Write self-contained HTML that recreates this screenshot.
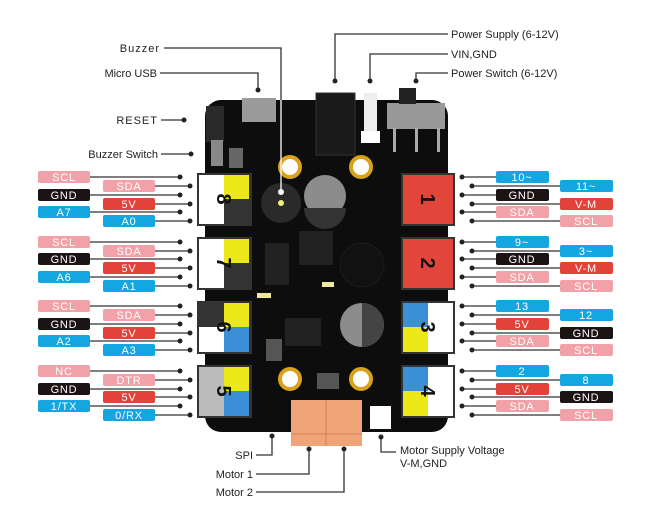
<!DOCTYPE html>
<html><head><meta charset="utf-8"><style>
html,body{margin:0;padding:0;background:#fff}
svg{display:block}
text{font-family:"Liberation Sans",sans-serif}
.l{font-size:11px;fill:#fff;text-anchor:middle;letter-spacing:0.8px}
.c{font-size:11px;fill:#222}
.ln{stroke:#333;stroke-width:1.3;fill:none}
.d{fill:#222}
</style></head><body>
<svg width="650" height="527" viewBox="0 0 650 527" xmlns="http://www.w3.org/2000/svg">
<rect x="205" y="100" width="243" height="332" rx="16" fill="#0d0d0d"/>
<rect x="242" y="98" width="34" height="24" fill="#9a9a9a"/>
<rect x="206" y="106" width="18" height="36" fill="#2a2a2a"/>
<rect x="211" y="140" width="12" height="26" fill="#888"/>
<rect x="229" y="148" width="14" height="20" fill="#666"/>
<rect x="316" y="93" width="39" height="62" fill="#1a1a1a" stroke="#333"/>
<rect x="364" y="93" width="13" height="42" fill="#eee"/>
<rect x="361" y="131" width="19" height="12" fill="#fff"/>
<rect x="387" y="103" width="58" height="26" fill="#999"/>
<rect x="399" y="88" width="17" height="16" fill="#222"/>
<rect x="393" y="128" width="3" height="24" fill="#aaa"/>
<rect x="415" y="128" width="3" height="24" fill="#aaa"/>
<rect x="437" y="128" width="3" height="24" fill="#aaa"/>
<g fill="#fff" stroke="#d8a21a" stroke-width="4">
<circle cx="290" cy="167" r="10"/><circle cx="361" cy="167" r="10"/>
<circle cx="290" cy="379" r="10"/><circle cx="361" cy="379" r="10"/>
</g>
<circle cx="281" cy="203" r="20" fill="#2a2a2a"/>
<circle cx="281" cy="203" r="3" fill="#f4ef7a"/>
<circle cx="325" cy="196" r="21" fill="#8c8c8c"/>
<path d="M304 208 A21 21 0 0 0 346 208 Z" fill="#333"/>
<circle cx="362" cy="265" r="22" fill="#111" stroke="#1d1d1d"/>
<circle cx="362" cy="325" r="22" fill="#8c8c8c"/>
<path d="M362 303 A22 22 0 0 1 362 347 Z" fill="#444"/>
<rect x="299" y="231" width="34" height="34" fill="#222"/>
<rect x="265" y="243" width="24" height="42" fill="#222"/>
<rect x="285" y="318" width="36" height="28" fill="#222"/>
<rect x="266" y="339" width="16" height="22" fill="#555"/>
<rect x="317" y="373" width="22" height="16" fill="#555"/>
<rect x="257" y="293" width="14" height="5" fill="#eee8a0"/>
<rect x="322" y="282" width="12" height="5" fill="#eee8a0"/>
<rect x="291" y="400" width="71" height="46" fill="#f0a477"/>
<line x1="326" y1="400" x2="326" y2="446" stroke="#c9845a"/>
<line x1="291" y1="434" x2="362" y2="434" stroke="#c9845a"/>
<rect x="370" y="406" width="21" height="23" fill="#fff"/>
<g>
<rect x="197" y="173" width="55" height="53" fill="#333"/>
<rect x="199" y="175" width="25" height="49" fill="#fff"/>
<rect x="224" y="175" width="25" height="24" fill="#ece81a"/>
<rect x="197" y="237" width="55" height="53" fill="#333"/>
<rect x="199" y="239" width="25" height="49" fill="#fff"/>
<rect x="224" y="239" width="25" height="24" fill="#ece81a"/>
<rect x="197" y="301" width="55" height="53" fill="#333"/>
<rect x="199" y="327" width="25" height="25" fill="#fff"/>
<rect x="224" y="303" width="25" height="24" fill="#ece81a"/>
<rect x="224" y="327" width="25" height="25" fill="#3b8fd6"/>
<rect x="197" y="365" width="55" height="53" fill="#333"/>
<rect x="199" y="367" width="25" height="49" fill="#bbb"/>
<rect x="224" y="367" width="25" height="24" fill="#ece81a"/>
<rect x="224" y="391" width="25" height="25" fill="#3b8fd6"/>
</g>
<g font-family="Liberation Sans" font-weight="bold" font-size="20" fill="#111" text-anchor="middle">
<text transform="translate(224,199) rotate(90)" dy="7">8</text>
<text transform="translate(224,263) rotate(90)" dy="7">7</text>
<text transform="translate(224,327) rotate(90)" dy="7">6</text>
<text transform="translate(224,391) rotate(90)" dy="7">5</text>
</g>
<rect x="401" y="173" width="54" height="53" fill="#333"/>
<rect x="403" y="175" width="50" height="49" fill="#e2463b"/>
<rect x="401" y="237" width="54" height="53" fill="#333"/>
<rect x="403" y="239" width="50" height="49" fill="#e2463b"/>
<rect x="401" y="301" width="54" height="53" fill="#333"/>
<rect x="428" y="303" width="25" height="49" fill="#fff"/>
<rect x="403" y="303" width="25" height="24" fill="#3b8fd6"/>
<rect x="403" y="327" width="25" height="25" fill="#ece81a"/>
<rect x="401" y="365" width="54" height="53" fill="#333"/>
<rect x="428" y="367" width="25" height="49" fill="#fff"/>
<rect x="403" y="367" width="25" height="24" fill="#3b8fd6"/>
<rect x="403" y="391" width="25" height="25" fill="#ece81a"/>
<g font-family="Liberation Sans" font-weight="bold" font-size="20" fill="#111" text-anchor="middle">
<text transform="translate(428,199) rotate(90)" dy="7">1</text>
<text transform="translate(428,263) rotate(90)" dy="7">2</text>
<text transform="translate(428,327) rotate(90)" dy="7">3</text>
<text transform="translate(428,391) rotate(90)" dy="7">4</text>
</g>

<path class="ln" d="M164 48 H281 V100"/>
<path d="M281 100 V192" stroke="#fff" stroke-width="1.3"/>
<circle cx="281" cy="192" r="3" fill="#fff"/>
<text class="c" x="160" y="52" text-anchor="end" letter-spacing="1">Buzzer</text>
<path class="ln" d="M160 73 H258 V90"/><circle class="d" cx="258" cy="90" r="2.5"/>
<text class="c" x="157" y="77" text-anchor="end">Micro USB</text>
<path class="ln" d="M161 120 H184"/><circle class="d" cx="184" cy="120" r="2.5"/>
<text class="c" x="158" y="124" text-anchor="end" letter-spacing="1">RESET</text>
<path class="ln" d="M161 154 H191"/><circle class="d" cx="191" cy="154" r="2.5"/>
<text class="c" x="158" y="158" text-anchor="end">Buzzer Switch</text>
<path class="ln" d="M448 34 H335 V81"/><circle class="d" cx="335" cy="81" r="2.5"/>
<text class="c" x="451" y="38">Power Supply (6-12V)</text>
<path class="ln" d="M448 54 H370 V81"/><circle class="d" cx="370" cy="81" r="2.5"/>
<text class="c" x="451" y="58">VIN,GND</text>
<path class="ln" d="M448 73 H416 V81"/><circle class="d" cx="416" cy="81" r="2.5"/>
<text class="c" x="451" y="77">Power Switch (6-12V)</text>
<path class="ln" d="M256 455 H272 V436"/><circle class="d" cx="272" cy="436" r="2.5"/>
<text class="c" x="253" y="459" text-anchor="end">SPI</text>
<path class="ln" d="M256 474 H309 V449"/><circle class="d" cx="309" cy="449" r="2.5"/>
<text class="c" x="253" y="478" text-anchor="end">Motor 1</text>
<path class="ln" d="M256 492 H344 V449"/><circle class="d" cx="344" cy="449" r="2.5"/>
<text class="c" x="253" y="496" text-anchor="end">Motor 2</text>
<path class="ln" d="M381 437 V452 H396"/><circle class="d" cx="381" cy="437" r="2.5"/>
<text class="c" x="400" y="454">Motor Supply Voltage</text>
<text class="c" x="400" y="467">V-M,GND</text>

<path class="ln" d="M90 177H180M155 186H190M90 195H180M155 204H190M90 212H180M155 221H190"/>
<path class="ln" d="M90 242H180M155 251H190M90 259H180M155 268H190M90 277H180M155 286H190"/>
<path class="ln" d="M90 306H180M155 315H190M90 324H180M155 333H190M90 341H180M155 350H190"/>
<path class="ln" d="M90 371H180M155 380H190M90 389H180M155 397H190M90 406H180M155 415H190"/>
<g class="d">
<circle cx="180" cy="177" r="2.5"/><circle cx="190" cy="186" r="2.5"/><circle cx="180" cy="195" r="2.5"/><circle cx="190" cy="204" r="2.5"/><circle cx="180" cy="212" r="2.5"/><circle cx="190" cy="221" r="2.5"/>
<circle cx="180" cy="242" r="2.5"/><circle cx="190" cy="251" r="2.5"/><circle cx="180" cy="259" r="2.5"/><circle cx="190" cy="268" r="2.5"/><circle cx="180" cy="277" r="2.5"/><circle cx="190" cy="286" r="2.5"/>
<circle cx="180" cy="306" r="2.5"/><circle cx="190" cy="315" r="2.5"/><circle cx="180" cy="324" r="2.5"/><circle cx="190" cy="333" r="2.5"/><circle cx="180" cy="341" r="2.5"/><circle cx="190" cy="350" r="2.5"/>
<circle cx="180" cy="371" r="2.5"/><circle cx="190" cy="380" r="2.5"/><circle cx="180" cy="389" r="2.5"/><circle cx="190" cy="397" r="2.5"/><circle cx="180" cy="406" r="2.5"/><circle cx="190" cy="415" r="2.5"/>
</g>
<g>
<rect x="38" y="171" width="52" height="12" rx="2" fill="#f1a1a8"/><text class="l" x="64" y="181">SCL</text>
<rect x="103" y="180" width="52" height="12" rx="2" fill="#f1a1a8"/><text class="l" x="129" y="190">SDA</text>
<rect x="38" y="189" width="52" height="12" rx="2" fill="#1c1414"/><text class="l" x="64" y="199">GND</text>
<rect x="103" y="198" width="52" height="12" rx="2" fill="#e2423a"/><text class="l" x="129" y="208">5V</text>
<rect x="38" y="206" width="52" height="12" rx="2" fill="#14a6e0"/><text class="l" x="64" y="216">A7</text>
<rect x="103" y="215" width="52" height="12" rx="2" fill="#14a6e0"/><text class="l" x="129" y="225">A0</text>
<rect x="38" y="236" width="52" height="12" rx="2" fill="#f1a1a8"/><text class="l" x="64" y="246">SCL</text>
<rect x="103" y="245" width="52" height="12" rx="2" fill="#f1a1a8"/><text class="l" x="129" y="255">SDA</text>
<rect x="38" y="253" width="52" height="12" rx="2" fill="#1c1414"/><text class="l" x="64" y="263">GND</text>
<rect x="103" y="262" width="52" height="12" rx="2" fill="#e2423a"/><text class="l" x="129" y="272">5V</text>
<rect x="38" y="271" width="52" height="12" rx="2" fill="#14a6e0"/><text class="l" x="64" y="281">A6</text>
<rect x="103" y="280" width="52" height="12" rx="2" fill="#14a6e0"/><text class="l" x="129" y="290">A1</text>
<rect x="38" y="300" width="52" height="12" rx="2" fill="#f1a1a8"/><text class="l" x="64" y="310">SCL</text>
<rect x="103" y="309" width="52" height="12" rx="2" fill="#f1a1a8"/><text class="l" x="129" y="319">SDA</text>
<rect x="38" y="318" width="52" height="12" rx="2" fill="#1c1414"/><text class="l" x="64" y="328">GND</text>
<rect x="103" y="327" width="52" height="12" rx="2" fill="#e2423a"/><text class="l" x="129" y="337">5V</text>
<rect x="38" y="335" width="52" height="12" rx="2" fill="#14a6e0"/><text class="l" x="64" y="345">A2</text>
<rect x="103" y="344" width="52" height="12" rx="2" fill="#14a6e0"/><text class="l" x="129" y="354">A3</text>
<rect x="38" y="365" width="52" height="12" rx="2" fill="#f1a1a8"/><text class="l" x="64" y="375">NC</text>
<rect x="103" y="374" width="52" height="12" rx="2" fill="#f1a1a8"/><text class="l" x="129" y="384">DTR</text>
<rect x="38" y="383" width="52" height="12" rx="2" fill="#1c1414"/><text class="l" x="64" y="393">GND</text>
<rect x="103" y="391" width="52" height="12" rx="2" fill="#e2423a"/><text class="l" x="129" y="401">5V</text>
<rect x="38" y="400" width="52" height="12" rx="2" fill="#14a6e0"/><text class="l" x="64" y="410">1/TX</text>
<rect x="103" y="409" width="52" height="12" rx="2" fill="#14a6e0"/><text class="l" x="129" y="419">0/RX</text>
</g>

<path class="ln" d="M462 177H496M472 186H560M462 195H496M472 204H560M462 212H496M472 221H560"/>
<path class="ln" d="M462 242H496M472 251H560M462 259H496M472 268H560M462 277H496M472 286H560"/>
<path class="ln" d="M462 306H496M472 315H560M462 324H496M472 333H560M462 341H496M472 350H560"/>
<path class="ln" d="M462 371H496M472 380H560M462 389H496M472 397H560M462 406H496M472 415H560"/>
<g class="d">
<circle cx="462" cy="177" r="2.5"/><circle cx="472" cy="186" r="2.5"/><circle cx="462" cy="195" r="2.5"/><circle cx="472" cy="204" r="2.5"/><circle cx="462" cy="212" r="2.5"/><circle cx="472" cy="221" r="2.5"/>
<circle cx="462" cy="242" r="2.5"/><circle cx="472" cy="251" r="2.5"/><circle cx="462" cy="259" r="2.5"/><circle cx="472" cy="268" r="2.5"/><circle cx="462" cy="277" r="2.5"/><circle cx="472" cy="286" r="2.5"/>
<circle cx="462" cy="306" r="2.5"/><circle cx="472" cy="315" r="2.5"/><circle cx="462" cy="324" r="2.5"/><circle cx="472" cy="333" r="2.5"/><circle cx="462" cy="341" r="2.5"/><circle cx="472" cy="350" r="2.5"/>
<circle cx="462" cy="371" r="2.5"/><circle cx="472" cy="380" r="2.5"/><circle cx="462" cy="389" r="2.5"/><circle cx="472" cy="397" r="2.5"/><circle cx="462" cy="406" r="2.5"/><circle cx="472" cy="415" r="2.5"/>
</g>
<g>
<rect x="496" y="171" width="53" height="12" rx="2" fill="#14a6e0"/><text class="l" x="522" y="181">10~</text>
<rect x="560" y="180" width="53" height="12" rx="2" fill="#14a6e0"/><text class="l" x="586" y="190">11~</text>
<rect x="496" y="189" width="53" height="12" rx="2" fill="#1c1414"/><text class="l" x="522" y="199">GND</text>
<rect x="560" y="198" width="53" height="12" rx="2" fill="#e2423a"/><text class="l" x="586" y="208">V-M</text>
<rect x="496" y="206" width="53" height="12" rx="2" fill="#f1a1a8"/><text class="l" x="522" y="216">SDA</text>
<rect x="560" y="215" width="53" height="12" rx="2" fill="#f1a1a8"/><text class="l" x="586" y="225">SCL</text>
<rect x="496" y="236" width="53" height="12" rx="2" fill="#14a6e0"/><text class="l" x="522" y="246">9~</text>
<rect x="560" y="245" width="53" height="12" rx="2" fill="#14a6e0"/><text class="l" x="586" y="255">3~</text>
<rect x="496" y="253" width="53" height="12" rx="2" fill="#1c1414"/><text class="l" x="522" y="263">GND</text>
<rect x="560" y="262" width="53" height="12" rx="2" fill="#e2423a"/><text class="l" x="586" y="272">V-M</text>
<rect x="496" y="271" width="53" height="12" rx="2" fill="#f1a1a8"/><text class="l" x="522" y="281">SDA</text>
<rect x="560" y="280" width="53" height="12" rx="2" fill="#f1a1a8"/><text class="l" x="586" y="290">SCL</text>
<rect x="496" y="300" width="53" height="12" rx="2" fill="#14a6e0"/><text class="l" x="522" y="310">13</text>
<rect x="560" y="309" width="53" height="12" rx="2" fill="#14a6e0"/><text class="l" x="586" y="319">12</text>
<rect x="496" y="318" width="53" height="12" rx="2" fill="#e2423a"/><text class="l" x="522" y="328">5V</text>
<rect x="560" y="327" width="53" height="12" rx="2" fill="#1c1414"/><text class="l" x="586" y="337">GND</text>
<rect x="496" y="335" width="53" height="12" rx="2" fill="#f1a1a8"/><text class="l" x="522" y="345">SDA</text>
<rect x="560" y="344" width="53" height="12" rx="2" fill="#f1a1a8"/><text class="l" x="586" y="354">SCL</text>
<rect x="496" y="365" width="53" height="12" rx="2" fill="#14a6e0"/><text class="l" x="522" y="375">2</text>
<rect x="560" y="374" width="53" height="12" rx="2" fill="#14a6e0"/><text class="l" x="586" y="384">8</text>
<rect x="496" y="383" width="53" height="12" rx="2" fill="#e2423a"/><text class="l" x="522" y="393">5V</text>
<rect x="560" y="391" width="53" height="12" rx="2" fill="#1c1414"/><text class="l" x="586" y="401">GND</text>
<rect x="496" y="400" width="53" height="12" rx="2" fill="#f1a1a8"/><text class="l" x="522" y="410">SDA</text>
<rect x="560" y="409" width="53" height="12" rx="2" fill="#f1a1a8"/><text class="l" x="586" y="419">SCL</text>
</g>
</svg>
</body></html>
